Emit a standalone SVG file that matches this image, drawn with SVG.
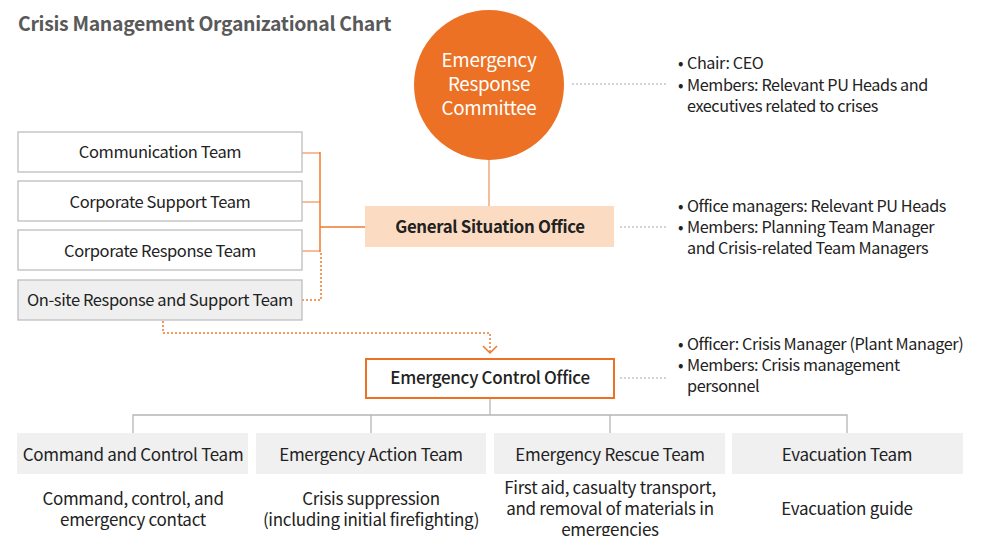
<svg xmlns="http://www.w3.org/2000/svg" width="984" height="536" viewBox="0 0 984 536">
<defs>
<style>
text{font-family:"Noto Sans CJK KR","Noto Sans",sans-serif;fill:#222;font-size:17px;letter-spacing:-0.3px}
.c{text-anchor:middle}
.title{font-size:19.4px;font-weight:bold;fill:#595959}
.w{fill:#fff;font-size:18.8px}
.b{font-weight:bold;font-size:16.8px}
.m{font-weight:500}
.l{font-size:16.5px;letter-spacing:-0.4px}
.n{font-size:16.2px;letter-spacing:-0.4px}
.box{fill:#fff;stroke:#bdbdbd;stroke-width:1.3}
.gbox{fill:#efefef;stroke:#bdbdbd;stroke-width:1.3}
.team{fill:#f0f0f0}
.or{stroke:#ee7a2e;stroke-width:1.5;fill:none}
.lor{stroke:#f4b690;stroke-width:1.8;fill:none}
.dot{stroke:#ee7a2e;stroke-width:1.5;fill:none;stroke-dasharray:2 2}
.gdot{stroke:#aaa;stroke-width:1;fill:none;stroke-dasharray:2 2}
.gl{stroke:#b5b5b5;stroke-width:1.3;fill:none}
</style>
</defs>
<text x="18" y="31" class="title">Crisis Management Organizational Chart</text>
<g id="connectors">
<line x1="489" y1="160" x2="489" y2="206" class="lor"/>
<line x1="302" y1="153" x2="320" y2="153" class="lor"/>
<line x1="302" y1="202" x2="320" y2="202" class="lor"/>
<line x1="302" y1="251" x2="320" y2="251" class="lor"/>
<line x1="320" y1="152" x2="320" y2="252" class="or"/>
<line x1="320" y1="227" x2="365" y2="227" class="or"/>
<polyline points="302,300 321,300 321,253" class="dot"/>
<polyline points="163,321 163,333 490,333 490,354" class="dot"/>
<polyline points="483,346 490,353 497,346" class="or"/>
<line x1="572" y1="84" x2="668" y2="84" class="gdot"/>
<line x1="620" y1="227" x2="668" y2="227" class="gdot"/>
<line x1="620" y1="378" x2="668" y2="378" class="gdot"/>
<line x1="490" y1="399" x2="490" y2="415" class="gl"/>
<polyline points="133,433 133,415 847,415 847,433" class="gl"/>
<line x1="371" y1="415" x2="371" y2="433" class="gl"/>
<line x1="610" y1="415" x2="610" y2="433" class="gl"/>
</g>
<g id="erc">
<circle cx="489" cy="85" r="75" fill="#ec7124"/>
<text x="489" y="67" class="c w">Emergency</text>
<text x="489" y="91" class="c w">Response</text>
<text x="489" y="115" class="c w">Committee</text>
</g>
<g id="erc-notes">
<text x="678" y="69" class="n">•</text><text x="687" y="69" class="n">Chair: CEO</text>
<text x="678" y="91" class="n">•</text><text x="687" y="91" class="n">Members: Relevant PU Heads and</text>
<text x="687" y="112" class="n">executives related to crises</text>
</g>
<g id="comm"><rect x="18" y="132" width="284" height="40" class="box"/><text x="160" y="158" class="c l">Communication Team</text></g>
<g id="csupport"><rect x="18" y="181" width="284" height="40" class="box"/><text x="160" y="208" class="c l">Corporate Support Team</text></g>
<g id="cresponse"><rect x="18" y="230" width="284" height="40" class="box"/><text x="160" y="257" class="c l">Corporate Response Team</text></g>
<g id="onsite"><rect x="18" y="280" width="284" height="40" class="gbox"/><text x="160" y="306" class="c l">On-site Response and Support Team</text></g>
<g id="gso">
<rect x="365" y="206" width="249" height="41" fill="#fbdcc3"/>
<text x="490" y="233" class="c b">General Situation Office</text>
</g>
<g id="gso-notes">
<text x="678" y="212" class="n">•</text><text x="687" y="212" class="n">Office managers: Relevant PU Heads</text>
<text x="678" y="233" class="n">•</text><text x="687" y="233" class="n">Members: Planning Team Manager</text>
<text x="687" y="254" class="n">and Crisis-related Team Managers</text>
</g>
<g id="eco">
<rect x="366" y="359" width="248" height="39" fill="#fff" stroke="#ec7124" stroke-width="2"/>
<text x="490" y="384" class="c m">Emergency Control Office</text>
</g>
<g id="eco-notes">
<text x="678" y="350" class="n">•</text><text x="687" y="350" class="n">Officer: Crisis Manager (Plant Manager)</text>
<text x="678" y="371" class="n">•</text><text x="687" y="371" class="n">Members: Crisis management</text>
<text x="687" y="392" class="n">personnel</text>
</g>
<g id="cct"><rect x="17" y="433" width="231" height="41" class="team"/><text x="133" y="461" class="c">Command and Control Team</text>
<text x="133" y="505" class="c">Command, control, and</text><text x="133" y="526" class="c">emergency contact</text></g>
<g id="eat"><rect x="256" y="433" width="230" height="41" class="team"/><text x="371" y="461" class="c">Emergency Action Team</text>
<text x="371" y="505" class="c">Crisis suppression</text><text x="371" y="526" class="c">(including initial firefighting)</text></g>
<g id="ert"><rect x="494" y="433" width="231" height="41" class="team"/><text x="610" y="461" class="c">Emergency Rescue Team</text>
<text x="610" y="494" class="c">First aid, casualty transport,</text><text x="610" y="515" class="c">and removal of materials in</text><text x="610" y="536" class="c">emergencies</text></g>
<g id="evt"><rect x="732" y="433" width="231" height="41" class="team"/><text x="847" y="461" class="c">Evacuation Team</text>
<text x="847" y="515" class="c">Evacuation guide</text></g>
</svg>
